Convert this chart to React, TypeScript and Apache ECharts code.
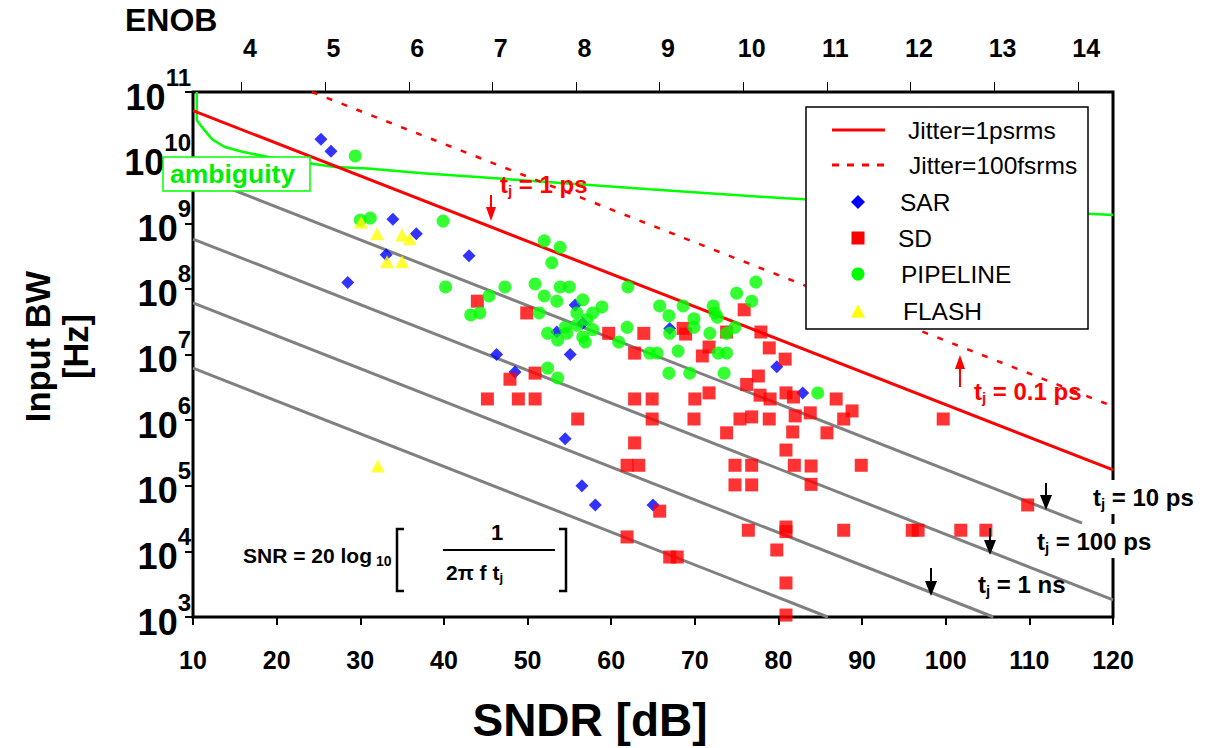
import React, { useEffect, useRef } from 'react';
import * as echarts from 'echarts';

const FONT = '"Liberation Sans", Arial, Helvetica, sans-serif';

// [SNDR dB, input bandwidth Hz]
const sarPoints: number[][] = [
  [25.3, 1.9e10], [26.5, 1.25e10], [33.9, 1.15e9], [36.7, 6.9e8], [33.1, 3.3e8], [28.5, 1.25e8],
  [43.0, 3.2e8], [55.7, 5.7e7], [53.5, 2.2e7], [56.6, 3.0e7], [55.1, 1.0e7], [67.0, 2.5e7],
  [79.8, 6.5e6], [82.9, 2.6e6], [46.3, 1.0e7], [48.5, 5.4e6], [54.5, 5.2e5], [56.5, 1.0e5],
  [58.1, 5.1e4], [65.0, 5.1e4],
];

const sdPoints: number[][] = [
  [44.0, 6.5e7], [49.9, 4.3e7], [59.7, 2.1e7], [63.9, 2.1e7], [68.6, 2.5e7], [68.9, 2.05e7],
  [75.9, 4.8e7], [73.8, 2.2e7], [77.9, 2.2e7], [78.9, 1.26e7], [71.7, 1.3e7], [70.9, 9.5e6],
  [62.8, 1.05e7], [80.8, 8.5e6], [77.6, 4.7e6], [76.2, 3.5e6], [77.8, 2.4e6], [79.0, 2.1e6],
  [80.9, 2.6e6], [81.8, 2.25e6], [86.9, 2.1e6], [88.8, 1.38e6], [87.8, 1.04e6], [83.8, 1.29e6],
  [82.0, 1.16e6], [81.7, 6.6e5], [85.8, 6.4e5], [80.9, 3.5e5], [81.9, 2.05e5], [83.9, 2.0e5],
  [89.9, 2.05e5], [83.9, 1.05e5], [99.7, 1.04e6], [62.8, 2.1e6], [64.9, 2.1e6], [70.0, 2.1e6],
  [71.7, 2.6e6], [56.0, 1.04e6], [64.9, 1.04e6], [69.9, 1.04e6], [75.4, 1.04e6], [76.8, 1.12e6],
  [78.9, 1.04e6], [73.8, 6.4e5], [62.8, 4.5e5], [61.9, 2.05e5], [63.3, 2.05e5], [74.8, 2.05e5],
  [76.8, 2.05e5], [74.8, 1.03e5], [76.8, 1.03e5], [45.2, 2.1e6], [48.9, 2.1e6], [50.9, 2.1e6],
  [50.9, 5.2e6], [47.9, 4.2e6], [65.8, 4.1e4], [76.4, 2.1e4], [80.9, 2.35e4], [80.9, 2.0e4],
  [79.8, 1.05e4], [61.9, 1.66e4], [67.0, 8.2e3], [67.9, 8.2e3], [80.9, 3.3e3], [80.9, 1.07e3],
  [109.8, 5.1e4], [87.8, 2.1e4], [96.0, 2.1e4], [96.7, 2.1e4], [101.8, 2.1e4], [104.8, 2.1e4],
];

const pipelinePoints: number[][] = [
  [29.4, 1.06e10], [30.0, 1.12e9], [31.2, 1.2e9], [39.9, 1.08e9], [52.0, 5.4e8], [53.9, 4.3e8],
  [52.9, 2.5e8], [40.2, 1.07e8], [47.3, 1.07e8], [50.9, 1.19e8], [53.9, 1.07e8], [55.0, 1.07e8],
  [62.0, 1.07e8], [52.0, 7.8e7], [45.4, 7.8e7], [53.5, 6.5e7], [56.6, 6.8e7], [58.9, 5.3e7],
  [43.2, 4.0e7], [44.3, 4.3e7], [51.4, 4.3e7], [55.9, 4.3e7], [57.8, 4.3e7], [57.1, 3.4e7],
  [54.5, 2.6e7], [55.9, 2.8e7], [57.8, 2.4e7], [52.4, 2.1e7], [61.9, 2.6e7], [54.7, 2.1e7],
  [56.6, 1.85e7], [53.6, 1.66e7], [52.4, 6.2e6], [53.6, 4.4e6], [56.9, 1.55e7], [60.9, 1.55e7],
  [64.6, 1.05e7], [65.5, 1.05e7], [68.0, 1.13e7], [72.8, 1.05e7], [73.8, 1.05e7], [66.9, 5.2e6],
  [69.4, 5.2e6], [73.5, 5.2e6], [67.0, 2.1e7], [71.8, 2.1e7], [73.8, 2.1e7], [77.3, 1.27e8],
  [75.0, 8.6e7], [76.8, 6.5e7], [65.8, 5.5e7], [68.6, 5.5e7], [66.9, 3.9e7], [72.2, 5.5e7],
  [72.4, 4.3e7], [72.7, 3.7e7], [69.9, 3.5e7], [69.9, 2.6e7], [74.8, 2.6e7], [84.7, 2.6e6],
];

const flashPoints: number[][] = [
  [30.1, 1.04e9], [32.0, 6.9e8], [35.0, 6.6e8], [35.9, 5.8e8], [33.2, 2.6e8], [35.0, 2.6e8],
  [32.1, 2.0e5],
];

// jitter limit lines (endpoints)
const jitter1ps: number[][] = [[10, 5.2e10], [120, 1.74e5]];
const jitter100fs: number[][] = [[24.2, 1.0e11], [120, 1.62e6]];
const grayLines: number[][][] = [
  [[10, 5.6e9], [116.3, 2.7e4]],
  [[10, 5.75e8], [120, 1.82e3]],
  [[10, 6.1e7], [105.7, 1.0e3]],
  [[10, 6.2e6], [85.9, 1.0e3]],
];
const ambiguityCurve: number[][] = [
  [10.45, 1.0e11], [10.45, 3.7e10], [10.6, 3.5e10], [11.4, 2.6e10], [12.3, 1.9e10], [13.8, 1.45e10],
  [15.9, 1.23e10], [19.0, 1.02e10], [23.0, 8.5e9], [27.0, 7.2e9], [30.9, 6.8e9], [37.5, 5.8e9],
  [64.6, 3.3e9], [80.8, 2.4e9], [100, 1.8e9], [120, 1.33e9],
];

const enobLabels = ['4', '5', '6', '7', '8', '9', '10', '11', '12', '13', '14'];
const enobTickSNDR = [15.8, 25.8, 35.8, 45.8, 55.8, 65.8, 75.8, 85.8, 95.8, 105.8, 115.8];
const enobLabelSNDR = [16.8, 26.8, 36.8, 46.8, 56.8, 66.8, 76.8, 86.8, 96.8, 106.8, 116.8];

const legendNames = ['Jitter=1psrms', 'Jitter=100fsrms', 'SAR', 'SD', 'PIPELINE', 'FLASH'];

const RED = '#ff0000';
const BLUE = '#0000ff';
const GREEN = '#00ff00';
const YELLOW = '#ffff00';

function arrow(x: number, yStart: number, yTip: number, color: string, headLen: number, headW: number) {
  const dir = yTip > yStart ? 1 : -1;
  const base = yTip - dir * headLen;
  return {
    type: 'group',
    z: 60,
    children: [
      { type: 'line', z: 60, shape: { x1: x, y1: yStart, x2: x, y2: base }, style: { stroke: color, lineWidth: 2 } },
      {
        type: 'polygon', z: 60,
        shape: { points: [[x - headW / 2, base], [x + headW / 2, base], [x, yTip]] },
        style: { fill: color },
      },
    ],
  };
}

function tjLabel(x: number, y: number, rest: string, color: string, bg: boolean) {
  return {
    type: 'text',
    x,
    y,
    z: 60,
    style: {
      text: `{a|t}{s|j}{a| ${rest}}`,
      verticalAlign: 'middle',
      align: 'left',
      backgroundColor: bg ? '#ffffff' : undefined,
      padding: bg ? [3, 6, 3, 6] : 0,
      rich: {
        a: { fontSize: 24, fontWeight: 'bold', fontFamily: FONT, fill: color },
        s: { fontSize: 15, fontWeight: 'bold', fontFamily: FONT, fill: color, padding: [13, 0, 0, 0] },
      },
    },
  };
}

function legendGraphic() {
  const rows = [130, 165, 202, 238, 274, 311];
  const textX = [908, 909, 900, 898, 901, 903];
  const cx = 858;
  const els: any[] = [
    {
      type: 'rect', z: 40, shape: { x: 806, y: 107, width: 282, height: 222 },
      style: { fill: '#ffffff', stroke: '#000', lineWidth: 1.5 },
    },
    { type: 'line', z: 41, shape: { x1: 832, y1: rows[0], x2: 885, y2: rows[0] }, style: { stroke: RED, lineWidth: 3 } },
    {
      type: 'line', z: 41, shape: { x1: 832, y1: rows[1], x2: 885, y2: rows[1] },
      style: { stroke: RED, lineWidth: 3, lineDash: [7, 8] },
    },
    {
      type: 'polygon', z: 41,
      shape: { points: [[cx, rows[2] - 7], [cx + 7, rows[2]], [cx, rows[2] + 7], [cx - 7, rows[2]]] },
      style: { fill: BLUE },
    },
    { type: 'rect', z: 41, shape: { x: cx - 6.5, y: rows[3] - 6.5, width: 13, height: 13 }, style: { fill: RED } },
    { type: 'circle', z: 41, shape: { cx, cy: rows[4], r: 6.5 }, style: { fill: GREEN } },
    {
      type: 'polygon', z: 41,
      shape: { points: [[cx - 7, rows[5] + 6.5], [cx + 7, rows[5] + 6.5], [cx, rows[5] - 6.5]] },
      style: { fill: YELLOW },
    },
  ];
  legendNames.forEach((n, i) => {
    els.push({
      type: 'text', z: 41, x: textX[i], y: rows[i],
      style: { text: n, fontSize: 24.5, fontFamily: FONT, fill: '#000', verticalAlign: 'middle', align: 'left' },
    });
  });
  return els;
}

export default function App() {
  const ref = useRef<HTMLDivElement>(null);
  useEffect(() => {
    const chart = echarts.init(ref.current!, undefined, { renderer: 'svg' });
    const scatterBase = { type: 'scatter', z: 3, xAxisIndex: 0, yAxisIndex: 0 };
    const lineBase = {
      type: 'line', showSymbol: false, symbol: 'none', xAxisIndex: 0, yAxisIndex: 0, z: 1, silent: true,
    };
    const option: any = {
      animation: false,
      backgroundColor: '#ffffff',
      textStyle: { fontFamily: FONT },
      grid: {
        left: 193, top: 92, width: 920, height: 525, show: true, borderColor: '#000', borderWidth: 3,
        backgroundColor: 'transparent',
      },
      xAxis: [
        {
          type: 'value', position: 'bottom', min: 10, max: 120, interval: 10,
          axisLine: { show: false },
          axisTick: { show: true, inside: false, length: 8, lineStyle: { color: '#000', width: 2 } },
          splitLine: { show: false },
          axisLabel: { fontSize: 25, fontWeight: 'bold', color: '#000', fontFamily: FONT, margin: 30 },
          name: 'SNDR [dB]',
          nameLocation: 'middle',
          nameGap: 80,
          nameTextStyle: { fontSize: 46, fontWeight: 'bold', color: '#000', fontFamily: FONT, padding: [0, 126, 0, 0] },
        },
        {
          type: 'value', position: 'top', min: 10, max: 120,
          axisLine: { show: false },
          axisTick: { show: true, inside: false, length: 10, customValues: enobTickSNDR, lineStyle: { color: '#000', width: 1 } },
          splitLine: { show: false },
          axisLabel: {
            customValues: enobLabelSNDR,
            formatter: (v: number) => {
              const i = enobLabelSNDR.findIndex((p) => Math.abs(p - v) < 0.01);
              return i >= 0 ? enobLabels[i] : '';
            },
            fontSize: 25, fontWeight: 'bold', color: '#000', fontFamily: FONT, margin: 32,
          },
        },
      ],
      yAxis: [
        {
          type: 'log', logBase: 10, min: 1e3, max: 1e11,
          axisLine: { show: false },
          axisTick: { show: true, inside: false, length: 8, lineStyle: { color: '#000', width: 2 } },
          splitLine: { show: false },
          minorTick: { show: false },
          axisLabel: {
            margin: 2,
            formatter: (v: number) => `{b|10}{e|${Math.round(Math.log10(v))}}`,
            rich: {
              b: { fontSize: 36, fontWeight: 'bold', fontFamily: FONT, color: '#000', padding: [10, 0, 0, 0] },
              e: { fontSize: 24, fontWeight: 'bold', fontFamily: FONT, color: '#000', padding: [0, 0, 30, 0] },
            },
          },
          name: 'Input BW\n[Hz]',
          nameLocation: 'middle',
          nameRotate: 90,
          nameGap: 98,
          nameTextStyle: {
            fontSize: 34.5, fontWeight: 'bold', color: '#000', fontFamily: FONT, lineHeight: 38, padding: [0, 0, 0, 16],
          },
        },
      ],
      series: [
        ...grayLines.map((pts, i) => ({
          ...lineBase, name: 'gray' + i, data: pts, lineStyle: { color: '#808080', width: 3 },
        })),
        { ...lineBase, name: 'ambiguity', data: ambiguityCurve, lineStyle: { color: GREEN, width: 2.5 } },
        { ...lineBase, name: 'Jitter=1psrms', data: jitter1ps, lineStyle: { color: RED, width: 3 } },
        { ...lineBase, name: 'Jitter=100fsrms', data: jitter100fs, lineStyle: { color: RED, width: 2.5, type: [6, 10] } },
        { ...scatterBase, name: 'SAR', data: sarPoints, symbol: 'diamond', symbolSize: 13, itemStyle: { color: BLUE } },
        { ...scatterBase, name: 'SD', data: sdPoints, symbol: 'rect', symbolSize: 13, itemStyle: { color: RED } },
        { ...scatterBase, name: 'PIPELINE', data: pipelinePoints, symbol: 'circle', symbolSize: 13, itemStyle: { color: GREEN } },
        { ...scatterBase, name: 'FLASH', data: flashPoints, symbol: 'triangle', symbolSize: [14, 13], itemStyle: { color: YELLOW } },
      ],
      graphic: [
        {
          type: 'text', x: 125, y: 20, z: 60,
          style: { text: 'ENOB', fontSize: 32, fontWeight: 'bold', fontFamily: FONT, fill: '#000', verticalAlign: 'middle' },
        },
        {
          type: 'rect', z: 50, shape: { x: 163, y: 157, width: 147, height: 34 },
          style: { fill: '#ffffff', stroke: GREEN, lineWidth: 1.5 },
        },
        {
          type: 'text', x: 170, y: 174, z: 51,
          style: { text: 'ambiguity', fontSize: 26.5, fontWeight: 'bold', fontFamily: FONT, fill: '#00ee00', verticalAlign: 'middle' },
        },
        ...legendGraphic(),
        tjLabel(500, 184, '= 1 ps', RED, false),
        arrow(491, 195, 221, RED, 14, 10),
        tjLabel(974, 391, '= 0.1 ps', RED, false),
        arrow(960, 387, 355, RED, 14, 10),
        tjLabel(1087, 497, '= 10 ps', '#000000', true),
        tjLabel(1031, 541, '= 100 ps', '#000000', true),
        tjLabel(978, 584, '= 1 ns', '#000000', false),
        arrow(1046, 483, 510, '#000000', 15, 12),
        arrow(990, 528, 555, '#000000', 15, 12),
        arrow(931, 568, 596, '#000000', 15, 12),
        // formula
        {
          type: 'text', x: 243, y: 555, z: 60,
          style: { text: 'SNR = 20 log', fontSize: 21, fontWeight: 'bold', fontFamily: FONT, fill: '#000', verticalAlign: 'middle' },
        },
        {
          type: 'text', x: 376, y: 561, z: 60,
          style: { text: '10', fontSize: 14, fontWeight: 'bold', fontFamily: FONT, fill: '#000', verticalAlign: 'middle' },
        },
        {
          type: 'polyline', z: 60,
          shape: { points: [[404, 529], [397, 529], [397, 591], [404, 591]] },
          style: { stroke: '#000', lineWidth: 2.5, fill: 'none' },
        },
        {
          type: 'polyline', z: 60,
          shape: { points: [[559, 529], [566, 529], [566, 591], [559, 591]] },
          style: { stroke: '#000', lineWidth: 2.5, fill: 'none' },
        },
        {
          type: 'line', z: 60, shape: { x1: 443, y1: 550, x2: 555, y2: 550 },
          style: { stroke: '#000', lineWidth: 2 },
        },
        {
          type: 'text', x: 497, y: 532, z: 60,
          style: { text: '1', fontSize: 22, fontWeight: 'bold', fontFamily: FONT, fill: '#000', align: 'center', verticalAlign: 'middle' },
        },
        {
          type: 'text', x: 446, y: 572, z: 60,
          style: {
            text: '{a|2π f t}{s|j}',
            verticalAlign: 'middle',
            rich: {
              a: { fontSize: 21, fontWeight: 'bold', fontFamily: FONT, fill: '#000' },
              s: { fontSize: 13, fontWeight: 'bold', fontFamily: FONT, fill: '#000', padding: [11, 0, 0, 0] },
            },
          },
        },
      ],
    };
    chart.setOption(option);
    return () => chart.dispose();
  }, []);
  return (
    <div
      ref={ref}
      style={{ position: 'fixed', left: 0, top: 0, width: 1206, height: 748, background: '#ffffff' }}
    />
  );
}
